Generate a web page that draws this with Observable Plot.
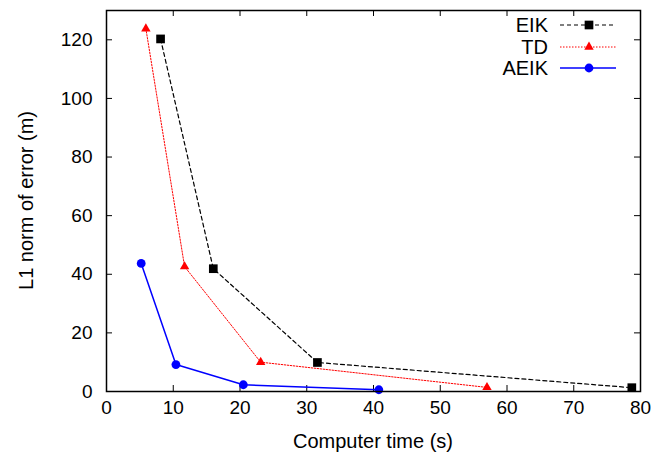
<!DOCTYPE html>
<html>
<head>
<meta charset="utf-8">
<script src="https://cdn.jsdelivr.net/npm/d3@7"></script>
<script src="https://cdn.jsdelivr.net/npm/@observablehq/plot@0.6"></script>
<style>
  body { margin: 0; background: #fff; }
  #chart svg { font-family: "Liberation Sans", Arial, sans-serif; }
</style>
</head>
<body>
<div id="chart"></div>
<script>
// ---- data ----
const eikTime  = [8.1, 16.0, 31.6, 78.7];
const eikErr   = [120.3, 41.9, 9.9, 1.3];
const tdTime   = [5.9, 11.7, 23.1, 57.0];
const tdErr    = [123.8, 42.6, 10.0, 1.4];
const aeikTime = [5.2, 10.4, 20.5, 40.8];
const aeikErr  = [43.7, 9.2, 2.3, 0.6];

const seriesNames = ["EIK", "TD", "AEIK"];
const xTicks = [0, 10, 20, 30, 40, 50, 60, 70, 80];
const yTicks = [0, 20, 40, 60, 80, 100, 120];
const xLabel = "Computer time (s)";
const yLabel = "L1 norm of error (m)";

const toRows = (name, xs, ys) => xs.map((x, i) => ({series: name, time: x, err: ys[i]}));
const eik = toRows("EIK", eikTime, eikErr);
const td = toRows("TD", tdTime, tdErr);
const aeik = toRows("AEIK", aeikTime, aeikErr);

const W = 657, H = 454;
const mL = 106, mR = 17, mT = 10, mB = 63;
const innerH = H - mT - mB, innerW = W - mL - mR;
const FS = 19;
const TFS = 20;

const plot = Plot.plot({
  width: W, height: H,
  marginLeft: mL, marginRight: mR, marginTop: mT, marginBottom: mB,
  style: {fontSize: FS + "px", fontFamily: '"Liberation Sans", Arial, sans-serif', background: "#fff", color: "#000"},
  x: {domain: [0, 80]},
  y: {domain: [0, 130]},
  marks: [
    Plot.axisX(xTicks, {tickSize: 0, tickPadding: 9, label: null, fontSize: FS, fill: "#000"}),
    Plot.axisY(yTicks, {tickSize: 0, tickPadding: 14, label: null, fontSize: FS, fill: "#000"}),
    // inward ticks (bottom & top)
    Plot.tickX(xTicks, {x: d => d, insetTop: innerH - 6, stroke: "#000", strokeWidth: 1}),
    Plot.tickX(xTicks, {x: d => d, insetBottom: innerH - 6, stroke: "#000", strokeWidth: 1}),
    // inward ticks (left & right)
    Plot.tickY(yTicks, {y: d => d, insetRight: innerW - 6, stroke: "#000", strokeWidth: 1}),
    Plot.tickY(yTicks, {y: d => d, insetLeft: innerW - 6, stroke: "#000", strokeWidth: 1}),
    // series
    Plot.line(eik, {x: "time", y: "err", stroke: "#000", strokeWidth: 1.2, strokeDasharray: "4,3"}),
    Plot.line(td, {x: "time", y: "err", stroke: "#ff0000", strokeWidth: 1, strokeDasharray: "1.5,1.5"}),
    Plot.line(aeik, {x: "time", y: "err", stroke: "#0000ff", strokeWidth: 1.5}),
    Plot.dot(eik, {x: "time", y: "err", symbol: "square", r: 4.9, fill: "#000", stroke: "none"}),
    Plot.dot(td, {x: "time", y: "err", symbol: "triangle", r: 3.5, fill: "#ff0000", stroke: "none"}),
    Plot.dot(aeik, {x: "time", y: "err", symbol: "circle", r: 4.4, fill: "#0000ff", stroke: "none"}),
    Plot.frame({stroke: "#000", strokeWidth: 1.5})
  ]
});

const svg = d3.select(plot);
// axis titles
svg.append("text")
  .attr("x", mL + innerW / 2).attr("y", 448)
  .attr("text-anchor", "middle").attr("font-size", TFS).attr("fill", "#000")
  .text(xLabel);
svg.append("text")
  .attr("transform", `translate(33,${mT + innerH / 2}) rotate(-90)`)
  .attr("text-anchor", "middle").attr("font-size", TFS).attr("fill", "#000")
  .text(yLabel);

// legend
const legendStyles = [
  {stroke: "#000", dash: "4,3", width: 1.2, symbol: d3.symbolSquare, r: 4.9, fill: "#000"},
  {stroke: "#ff0000", dash: "1.5,1.5", width: 1, symbol: d3.symbolTriangle, r: 3.5, fill: "#ff0000"},
  {stroke: "#0000ff", dash: null, width: 1.5, symbol: d3.symbolCircle, r: 4.4, fill: "#0000ff"}
];
const legendY = [25, 47, 68];
const lg = svg.append("g");
seriesNames.forEach((name, i) => {
  const s = legendStyles[i], y = legendY[i];
  lg.append("text").attr("x", 548).attr("y", y).attr("dy", "0.35em")
    .attr("text-anchor", "end").attr("font-size", TFS).attr("fill", "#000").text(name);
  const ln = lg.append("line").attr("x1", 560).attr("x2", 616).attr("y1", y).attr("y2", y)
    .attr("stroke", s.stroke).attr("stroke-width", s.width);
  if (s.dash) ln.attr("stroke-dasharray", s.dash);
  lg.append("path").attr("transform", `translate(589,${y})`)
    .attr("d", d3.symbol(s.symbol, Math.PI * s.r * s.r)()).attr("fill", s.fill);
});

document.getElementById("chart").appendChild(plot);
</script>
</body>
</html>
